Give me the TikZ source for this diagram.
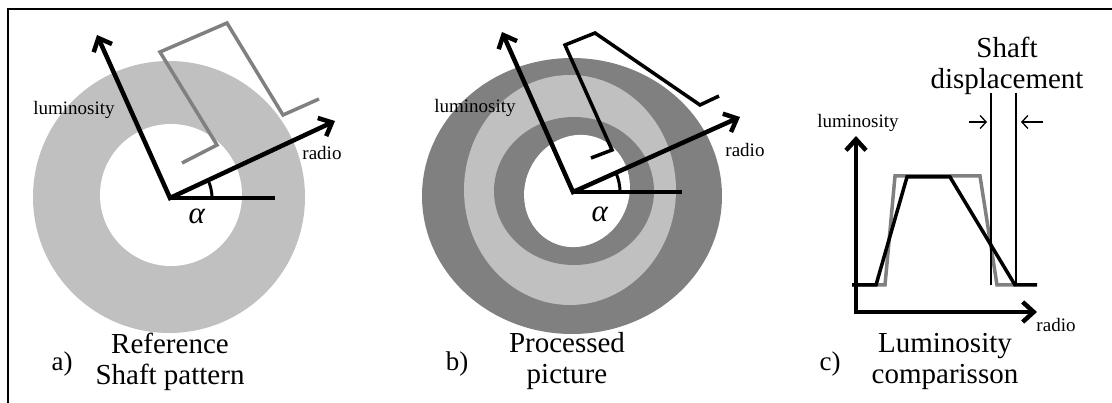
\documentclass[tikz,border=0pt]{standalone}
\usepackage{fontspec}
\setmainfont{Liberation Serif}
\usetikzlibrary{arrows.meta}
\definecolor{ringlight}{RGB}{192,192,192}
\definecolor{ringdark}{RGB}{128,128,128}
\definecolor{profgrey}{RGB}{128,128,128}

\begin{document}
\begin{tikzpicture}[x=1pt, y=-1pt,
    axis/.style={line width=4.5pt, line join=miter,
      {Straight Barb[length=11pt,width=20pt]}-{Straight Barb[length=11pt,width=20pt]}},
    refline/.style={line width=4.5pt},
    profile/.style={line width=3.5pt, line join=miter},
    marker/.style={line width=1.3pt},
    small/.style={font=\fontsize{19}{22}\selectfont},
    big/.style={font=\fontsize{29}{31}\selectfont, align=center},
    tag/.style={font=\fontsize{27}{30}\selectfont},
    anglab/.style={font=\fontsize{31}{34}\selectfont}]
  \useasboundingbox (0,0) rectangle (1112,403);
  % frame
  \draw[line width=2pt] (8,403) -- (8,9) -- (1112,9);

  % a) reference pattern
  \fill[ringlight] (169,197) circle[radius=136];
  \fill[white] (171,195) circle[radius=71];
  \coordinate (ao) at (170,198);
  \coordinate (alum) at (97,35);
  \coordinate (arad) at (335,121);
  \coordinate (ahor) at (275,198);
  \draw[profile, profgrey] (182,163) -- (217,145) -- (160,52) -- (227,23) -- (283,115) -- (319,99);
  \draw[axis] (alum) -- (ao) -- (arad);
  \draw[refline] (ao) -- (ahor);
  \draw[line width=3pt] (ao) ++(42,0) arc[start angle=0, end angle=-25, radius=42];
  \node[anglab] (aalpha) at (197,216) {\textit{α}};
  \node[small] (alumlab) at (74,110) {luminosity};
  \node[small] (aradlab) at (322,153) {radio};
  \node[big] (acap) at (170,362) {Reference\\Shaft pattern};
  \node[tag] (atag) at (62,364) {a)};

  % b) processed picture
  \fill[ringdark] (572,196) circle[x radius=150, y radius=138];
  \fill[ringlight] (570,190) circle[x radius=106, y radius=115];
  \fill[ringdark] (574,191) circle[x radius=80, y radius=74];
  \fill[white, rotate around={-25:(577,191)}] (577,191) circle[x radius=52, y radius=57];
  \coordinate (bo) at (573,192);
  \coordinate (blum) at (502,32);
  \coordinate (brad) at (740,117);
  \coordinate (bhor) at (682,192);
  \draw[profile] (591,158) -- (612,150) -- (565,45) -- (595,33) -- (700,105) -- (719,96);
  \draw[axis] (blum) -- (bo) -- (brad);
  \draw[refline] (bo) -- (bhor);
  \draw[line width=3pt] (bo) ++(47,0) arc[start angle=0, end angle=-24, radius=47];
  \node[anglab] (balpha) at (600,214) {\textit{α}};
  \node[small] (blumlab) at (475,108) {luminosity};
  \node[small] (bradlab) at (745,150) {radio};
  \node[big] (bcap) at (567,361) {Processed\\picture};
  \node[tag] (btag) at (457,364) {b)};

  % c) luminosity comparison
  \coordinate (co) at (856,312);
  \coordinate (clum) at (856,136);
  \coordinate (crad) at (1037,312);
  \draw[profile, profgrey] (852,285) -- (885,285) -- (895,176) -- (980,176) -- (997,285) -- (1015,285);
  \draw[profile] (852,285) -- (876,285) -- (907,177) -- (950,177) -- (1015,285) -- (1037,285);
  \draw[axis] (clum) -- (co) -- (crad);
  \coordinate (m1top) at (991,93);
  \coordinate (m1bot) at (991,285);
  \coordinate (m2top) at (1016,93);
  \coordinate (m2bot) at (1016,285);
  \draw[marker] (m1top) -- (m1bot);
  \draw[marker] (m2top) -- (m2bot);
  \coordinate (lfrom) at (969,122);
  \coordinate (lto) at (987,122);
  \coordinate (rfrom) at (1043,122);
  \coordinate (rto) at (1021,122);
  \draw[marker, -{Straight Barb[length=6pt,width=13pt]}] (lfrom) -- (lto);
  \draw[marker, -{Straight Barb[length=6pt,width=13pt]}] (rfrom) -- (rto);
  \node[big] (shaft) at (1007,66) {Shaft\\displacement};
  \node[small] (clumlab) at (858,123) {luminosity};
  \node[small] (cradlab) at (1056,325) {radio};
  \node[big] (ccap) at (945,361) {Luminosity\\comparisson};
  \node[tag] (ctag) at (830,364) {c)};
\end{tikzpicture}
\end{document}
